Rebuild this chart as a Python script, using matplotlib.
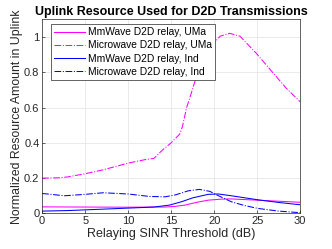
import numpy as np
import matplotlib.pyplot as plt

plt.rcParams['font.family'] = ['Liberation Sans', 'DejaVu Sans']

# -------------------------------
# data
# -------------------------------
x_mw_uma = [0, 2, 3, 5, 7, 10, 12, 13, 14, 15, 15.6, 16, 16.3, 16.8, 17.2, 17.75,
            18.5, 19.1, 19.9, 20.7, 21.8, 23, 24.9, 26.9, 28.4, 30]
y_mw_uma = [0.20, 0.202, 0.207, 0.225, 0.246, 0.285, 0.305, 0.312, 0.36, 0.40, 0.43,
            0.45, 0.49, 0.60, 0.66, 0.746, 0.85, 0.917, 0.964, 1.005, 1.021, 1.005,
            0.908, 0.794, 0.709, 0.633]

x_mm_uma = [0, 5, 10, 13, 14.3, 15.5, 16.6, 18, 19.3, 20.9, 22, 25, 30]
y_mm_uma = [0.037, 0.036, 0.035, 0.036, 0.036, 0.040, 0.047, 0.063, 0.075, 0.081,
            0.082, 0.075, 0.063]

x_mm_ind = [0, 3, 5, 10, 13, 14.8, 16.2, 17.5, 19.3, 20.5, 22, 25.1, 27.5, 30]
y_mm_ind = [0.013, 0.016, 0.020, 0.030, 0.036, 0.047, 0.066, 0.088, 0.108, 0.110,
            0.100, 0.077, 0.062, 0.049]

x_uw_ind = [0, 2.6, 5, 7.1, 10, 12.5, 14.3, 15.5, 17, 18.3, 19.5, 20.5, 22, 23.5,
            25.1, 27.5, 30]
y_uw_ind = [0.113, 0.100, 0.108, 0.117, 0.110, 0.096, 0.094, 0.105, 0.128, 0.136,
            0.125, 0.100, 0.066, 0.045, 0.028, 0.013, 0.004]

xticks = [0, 5, 10, 15, 20, 25, 30]
yticks = [0, 0.2, 0.4, 0.6, 0.8, 1]

fig = plt.figure(figsize=(3.32, 2.49), dpi=100)
ax = fig.add_axes([0.127, 0.143, 0.777, 0.779])

ax.plot(x_mm_uma, y_mm_uma, '-', color='#ff00ff', lw=0.75, label='MmWave D2D relay, UMa')
ax.plot(x_mw_uma, y_mw_uma, '-.', color='#ff00ff', lw=0.75, label='Microwave D2D relay, UMa')
ax.plot(x_mm_ind, y_mm_ind, '-', color='#0000ff', lw=0.75, label='MmWave D2D relay, Ind')
ax.plot(x_uw_ind, y_uw_ind, '-.', color='#0000ff', lw=0.75, label='Microwave D2D relay, Ind')

ax.set_xlim(0, 30)
ax.set_ylim(0, 1.1)
ax.set_xticks(xticks)
ax.set_yticks(yticks)
ax.set_yticklabels(['0', '0.2', '0.4', '0.6', '0.8', '1'])
ax.grid(True, color='#e6e6e6', lw=0.6)
ax.set_axisbelow(True)
ax.tick_params(direction='in', length=2.5, width=0.5, labelsize=8,
               colors='#262626', pad=2)
for s in ax.spines.values():
    s.set_color('#262626')
    s.set_linewidth(0.5)

ax.set_xlabel('Relaying SINR Threshold (dB)', fontsize=9, color='#262626', labelpad=1)
ax.set_ylabel('Normalized Resource Amount in Uplink', fontsize=8.8, color='#262626',
              labelpad=1)
ax.set_title('Uplink Resource Used for D2D Transmissions', fontsize=9,
             fontweight='bold', pad=3)

leg = ax.legend(loc='upper left', bbox_to_anchor=(0.035, 0.975), fontsize=7.4,
                handlelength=3.0, handletextpad=0.25, borderpad=0.3,
                labelspacing=0.3, fancybox=False, framealpha=1,
                borderaxespad=0)
leg.get_frame().set_edgecolor('#262626')
leg.get_frame().set_linewidth(0.5)

plt.savefig('out.png', dpi=100)
